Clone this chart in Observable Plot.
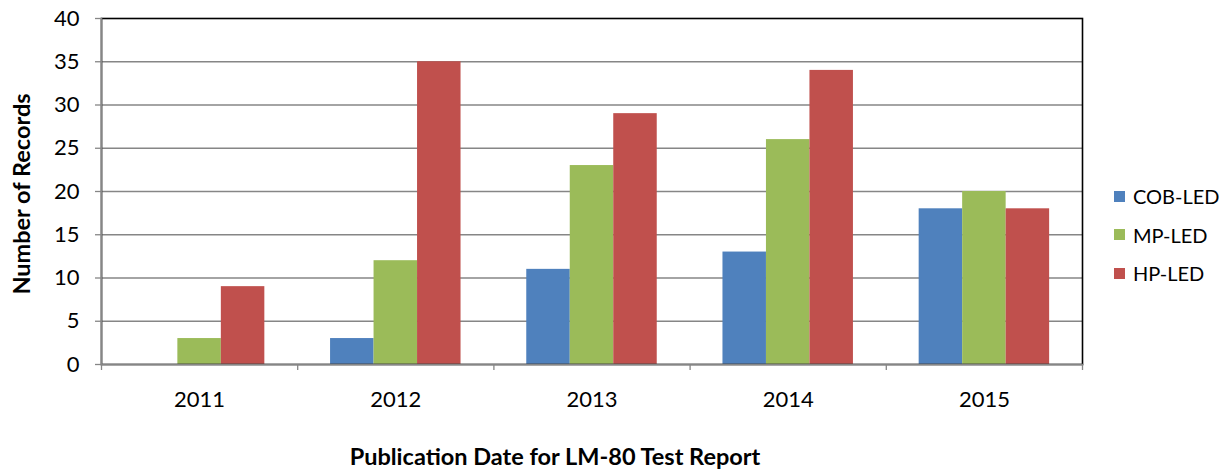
<!DOCTYPE html>
<html><head><meta charset="utf-8">
<script src="https://cdn.jsdelivr.net/npm/d3@7"></script>
<script src="https://cdn.jsdelivr.net/npm/@observablehq/plot@0.6"></script>
<style>
body{margin:0;background:#fff;}
#wrap{position:relative;width:1224px;height:472px;font-family:Lato,"Open Sans",sans-serif;color:#000;overflow:hidden;}
.ytitle{position:absolute;left:22px;top:194px;transform:translate(-50%,-50%) rotate(-90deg);font-weight:700;font-size:23.5px;line-height:1;white-space:nowrap;}
.xtitle{position:absolute;left:555px;top:457px;transform:translate(-50%,-50%);font-weight:700;font-size:23.5px;line-height:1;white-space:nowrap;}
.legend{position:absolute;left:1114px;top:177px;}
.item{display:flex;align-items:center;height:38.5px;font-size:20px;}
.sw{width:11px;height:11px;margin-right:8px;}
</style></head><body><div id="wrap"></div><script>
const years = ["2011", "2012", "2013", "2014", "2015"];
const series = ["COB-LED", "MP-LED", "HP-LED"];
const cobLed = [0, 3, 11, 13, 18];
const mpLed = [3, 12, 23, 26, 20];
const hpLed = [9, 35, 29, 34, 18];
const colors = ["#4F81BD", "#9BBB59", "#C0504D"];
const yTicks = [0, 5, 10, 15, 20, 25, 30, 35, 40];

const valuesBySeries = [cobLed, mpLed, hpLed];
const records = series.flatMap((s, i) => years.map((y, j) => ({year: y, series: s, value: valuesBySeries[i][j]})));

const W = 1224, H = 472, ML = 101, MR = 142, MT = 18, MB = 108;
const step = (W - ML - MR) / years.length;
const groupFrac = 0.665;
const barW = step * groupFrac / series.length;
const outer = (step - barW * series.length) / 2;
const grid = "#868686";

const chart = Plot.plot({
  width: W, height: H,
  marginLeft: ML, marginRight: MR, marginTop: MT, marginBottom: MB,
  style: {fontFamily: "Lato, 'Open Sans', sans-serif", fontSize: "22px", color: "#000", background: "#fff"},
  x: {type: "band", domain: years, padding: 0, round: false, axis: null},
  y: {domain: [0, 40], axis: null},
  color: {domain: series, range: colors},
  marks: [
    Plot.ruleY(yTicks.filter(t => t > 0 && t < 40), {stroke: grid, strokeWidth: 1.3}),
    ...series.map((s, i) => Plot.barY(records.filter(d => d.series === s), {
      x: "year", y: "value", fill: "series",
      insetLeft: outer + i * barW, insetRight: step - outer - (i + 1) * barW
    })),
    Plot.frame({stroke: "#000", strokeWidth: 1.6}),
    Plot.frame({anchor: "left", stroke: grid, strokeWidth: 1.6}),
    Plot.frame({anchor: "bottom", stroke: grid, strokeWidth: 1.6}),
    Plot.axisY({ticks: yTicks, tickSize: 6, tickPadding: 16, stroke: grid, strokeOpacity: 1, strokeWidth: 1.3, fill: "#000", label: null}),
    Plot.axisX({tickSize: 0, tickPadding: 27, label: null, fill: "#000"}),
    Plot.axisX({tickSize: 6, tickFormat: () => "", dx: -step / 2, stroke: grid, strokeOpacity: 1, strokeWidth: 1.3, label: null}),
    Plot.axisX([years[years.length - 1]], {tickSize: 6, tickFormat: () => "", dx: step / 2, stroke: grid, strokeOpacity: 1, strokeWidth: 1.3, label: null})
  ]
});

const wrap = document.getElementById("wrap");
wrap.appendChild(chart);
const yt = document.createElement("div"); yt.className = "ytitle"; yt.textContent = "Number of Records"; wrap.appendChild(yt);
const xt = document.createElement("div"); xt.className = "xtitle"; xt.textContent = "Publication Date for LM-80 Test Report"; wrap.appendChild(xt);
const lg = document.createElement("div"); lg.className = "legend";
series.forEach((s, i) => {
  const it = document.createElement("div"); it.className = "item";
  const sw = document.createElement("div"); sw.className = "sw"; sw.style.background = colors[i];
  const tx = document.createElement("span"); tx.textContent = s;
  it.appendChild(sw); it.appendChild(tx); lg.appendChild(it);
});
wrap.appendChild(lg);
</script></body></html>
